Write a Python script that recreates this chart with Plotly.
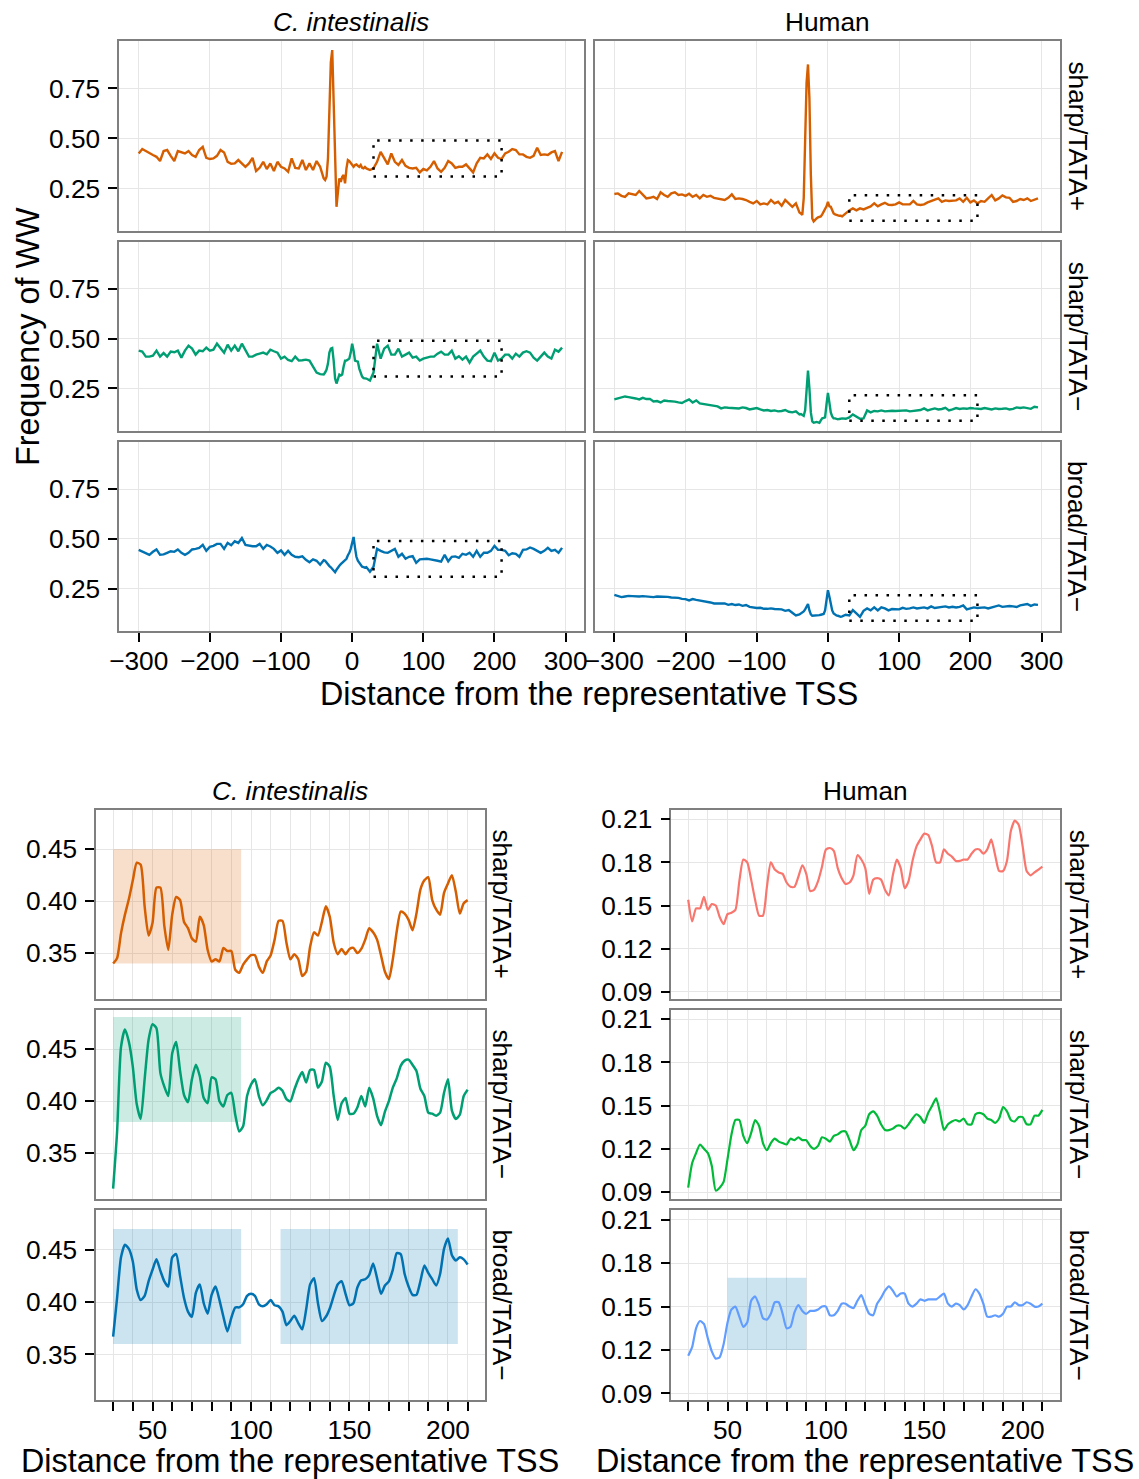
import plotly.graph_objects as go

W, H = 1139, 1479          # target picture size
OFF = 8                    # default page body margin
SX, CX = 0.99, 1.0         # measured capture transform, horizontal (picture = SX*page + CX)
SY, CY = 0.9916, -3.1      # measured capture transform, vertical
FW, FH = 1143, 1488        # figure size so that it covers the picture after capture

# ---------------- data ----------------
X_TOP = list(range(-300, -40, 5)) + list(range(-40, 20, 2)) + list(range(20, 296, 5))
X_BOT = list(range(30, 211, 2))

CI_SHARP_TATAP = [
    0.425, 0.447, 0.437, 0.425, 0.417, 0.408, 0.387, 0.437, 0.442, 0.413,
    0.387, 0.437, 0.430, 0.425, 0.437, 0.417, 0.408, 0.442, 0.458, 0.403,
    0.397, 0.400, 0.413, 0.442, 0.430, 0.383, 0.373, 0.375, 0.392, 0.375,
    0.358, 0.375, 0.403, 0.337, 0.353, 0.383, 0.347, 0.375, 0.337, 0.383,
    0.358, 0.350, 0.333, 0.400, 0.353, 0.350, 0.392, 0.342, 0.375, 0.342,
    0.387, 0.358,
    0.300, 0.292, 0.308, 0.400, 0.700, 0.880, 0.942, 0.720, 0.380, 0.158,
    0.233, 0.300, 0.283, 0.308, 0.317, 0.275, 0.350, 0.392, 0.387, 0.375,
    0.367, 0.358, 0.367, 0.370, 0.363, 0.358, 0.367, 0.353, 0.350, 0.357,
    0.350, 0.342, 0.350, 0.383, 0.433, 0.400, 0.370, 0.425, 0.383, 0.367,
    0.392, 0.363, 0.353, 0.350, 0.353, 0.330, 0.347, 0.340, 0.358, 0.387,
    0.350, 0.333, 0.353, 0.387, 0.375, 0.353, 0.358, 0.358, 0.370, 0.350,
    0.330, 0.375, 0.403, 0.400, 0.420, 0.397, 0.425, 0.403, 0.397, 0.425,
    0.433, 0.447, 0.442, 0.420, 0.420, 0.408, 0.403, 0.413, 0.453, 0.417,
    0.420, 0.417, 0.430, 0.437, 0.387, 0.433,
]
HS_SHARP_TATAP = [
    0.222, 0.225, 0.213, 0.208, 0.225, 0.220, 0.217, 0.237, 0.220, 0.200,
    0.203, 0.208, 0.197, 0.230, 0.217, 0.208, 0.225, 0.230, 0.217, 0.220,
    0.213, 0.223, 0.208, 0.217, 0.200, 0.217, 0.208, 0.213, 0.203, 0.200,
    0.197, 0.192, 0.203, 0.220, 0.197, 0.200, 0.197, 0.192, 0.183, 0.175,
    0.187, 0.170, 0.175, 0.170, 0.192, 0.175, 0.183, 0.163, 0.192, 0.175,
    0.158, 0.175,
    0.130, 0.125, 0.117, 0.200, 0.550, 0.780, 0.870, 0.700, 0.320, 0.100,
    0.085, 0.095, 0.100, 0.105, 0.108, 0.110, 0.120, 0.133, 0.150, 0.160,
    0.183, 0.160, 0.158, 0.140, 0.125, 0.120, 0.117, 0.115, 0.113, 0.113,
    0.110, 0.125, 0.140, 0.150, 0.140, 0.150, 0.145, 0.153, 0.160, 0.175,
    0.160, 0.170, 0.178, 0.168, 0.167, 0.170, 0.180, 0.170, 0.170, 0.170,
    0.187, 0.170, 0.167, 0.170, 0.180, 0.187, 0.190, 0.200, 0.183, 0.190,
    0.187, 0.187, 0.190, 0.200, 0.183, 0.203, 0.180, 0.190, 0.175, 0.187,
    0.183, 0.200, 0.217, 0.190, 0.200, 0.215, 0.205, 0.203, 0.183, 0.187,
    0.197, 0.192, 0.200, 0.187, 0.192, 0.200,
]
CI_SHARP_TATAM = [
    0.440, 0.435, 0.410, 0.410, 0.415, 0.440, 0.410, 0.428, 0.410, 0.435,
    0.432, 0.440, 0.405, 0.440, 0.465, 0.450, 0.420, 0.440, 0.437, 0.455,
    0.440, 0.445, 0.475, 0.450, 0.430, 0.470, 0.440, 0.465, 0.437, 0.475,
    0.440, 0.410, 0.410, 0.420, 0.425, 0.430, 0.422, 0.445, 0.437, 0.430,
    0.400, 0.410, 0.393, 0.387, 0.410, 0.390, 0.392, 0.395, 0.390, 0.360,
    0.330, 0.322,
    0.320, 0.330, 0.345, 0.375, 0.430, 0.450, 0.453, 0.390, 0.300, 0.275,
    0.300, 0.320, 0.315, 0.320, 0.360, 0.390, 0.390, 0.395, 0.400, 0.430,
    0.475, 0.440, 0.390, 0.387, 0.385, 0.350, 0.330, 0.310, 0.302, 0.300,
    0.300, 0.290, 0.330, 0.475, 0.400, 0.450, 0.465, 0.420, 0.420, 0.450,
    0.410, 0.420, 0.430, 0.405, 0.410, 0.390, 0.400, 0.405, 0.410, 0.410,
    0.425, 0.435, 0.420, 0.420, 0.440, 0.400, 0.412, 0.395, 0.410, 0.380,
    0.410, 0.425, 0.440, 0.410, 0.390, 0.387, 0.430, 0.390, 0.400, 0.420,
    0.420, 0.400, 0.425, 0.410, 0.430, 0.437, 0.430, 0.405, 0.390, 0.410,
    0.430, 0.410, 0.400, 0.445, 0.435, 0.455,
]
HS_SHARP_TATAM = [
    0.195, 0.200, 0.203, 0.210, 0.207, 0.205, 0.200, 0.195, 0.203, 0.197,
    0.198, 0.185, 0.187, 0.180, 0.190, 0.187, 0.187, 0.184, 0.180, 0.177,
    0.187, 0.195, 0.180, 0.190, 0.175, 0.172, 0.170, 0.167, 0.165, 0.160,
    0.150, 0.155, 0.153, 0.152, 0.153, 0.150, 0.155, 0.152, 0.145, 0.147,
    0.152, 0.145, 0.140, 0.142, 0.137, 0.140, 0.135, 0.137, 0.142, 0.133,
    0.130, 0.135,
    0.120, 0.122, 0.115, 0.113, 0.140, 0.220, 0.340, 0.250, 0.130, 0.085,
    0.078, 0.080, 0.082, 0.080, 0.078, 0.090, 0.100, 0.102, 0.105, 0.170,
    0.228, 0.180, 0.130, 0.110, 0.100, 0.100, 0.097, 0.095, 0.097, 0.100,
    0.100, 0.098, 0.105, 0.120, 0.110, 0.098, 0.100, 0.140, 0.130, 0.137,
    0.135, 0.140, 0.135, 0.137, 0.138, 0.137, 0.137, 0.138, 0.140, 0.135,
    0.138, 0.140, 0.142, 0.150, 0.140, 0.145, 0.150, 0.145, 0.147, 0.153,
    0.140, 0.145, 0.152, 0.147, 0.150, 0.148, 0.152, 0.150, 0.150, 0.147,
    0.152, 0.148, 0.145, 0.150, 0.147, 0.148, 0.150, 0.145, 0.148, 0.155,
    0.152, 0.155, 0.152, 0.148, 0.158, 0.155,
]
CI_BROAD_TATAM = [
    0.445, 0.437, 0.428, 0.420, 0.435, 0.447, 0.420, 0.422, 0.430, 0.438,
    0.435, 0.447, 0.430, 0.420, 0.430, 0.447, 0.450, 0.455, 0.470, 0.440,
    0.460, 0.465, 0.475, 0.475, 0.450, 0.480, 0.468, 0.488, 0.480, 0.505,
    0.470, 0.465, 0.463, 0.463, 0.475, 0.450, 0.470, 0.462, 0.450, 0.430,
    0.442, 0.420, 0.440, 0.420, 0.410, 0.408, 0.412, 0.395, 0.383, 0.397,
    0.390, 0.370,
    0.393, 0.390, 0.380, 0.375, 0.363, 0.357, 0.347, 0.340, 0.332, 0.345,
    0.358, 0.365, 0.373, 0.380, 0.390, 0.395, 0.400, 0.418, 0.430, 0.450,
    0.480, 0.510, 0.455, 0.410, 0.390, 0.380, 0.370, 0.360, 0.358, 0.355,
    0.358, 0.335, 0.360, 0.450, 0.440, 0.432, 0.430, 0.440, 0.450, 0.410,
    0.425, 0.400, 0.410, 0.413, 0.380, 0.397, 0.400, 0.400, 0.397, 0.392,
    0.390, 0.386, 0.420, 0.387, 0.410, 0.412, 0.405, 0.425, 0.420, 0.430,
    0.410, 0.440, 0.410, 0.430, 0.430, 0.440, 0.465, 0.445, 0.445, 0.440,
    0.418, 0.428, 0.425, 0.410, 0.445, 0.447, 0.457, 0.450, 0.440, 0.430,
    0.440, 0.455, 0.440, 0.445, 0.430, 0.455,
]
HS_BROAD_TATAM = [
    0.218, 0.212, 0.207, 0.210, 0.213, 0.212, 0.210, 0.210, 0.212, 0.210,
    0.208, 0.207, 0.210, 0.210, 0.207, 0.208, 0.205, 0.205, 0.203, 0.198,
    0.197, 0.190, 0.197, 0.193, 0.190, 0.188, 0.185, 0.180, 0.175, 0.175,
    0.172, 0.175, 0.168, 0.172, 0.167, 0.170, 0.163, 0.167, 0.158, 0.155,
    0.152, 0.153, 0.148, 0.148, 0.150, 0.147, 0.145, 0.145, 0.138, 0.142,
    0.128, 0.115,
    0.120, 0.125, 0.130, 0.135, 0.145, 0.160, 0.172, 0.140, 0.120, 0.113,
    0.113, 0.113, 0.113, 0.115, 0.116, 0.118, 0.122, 0.122, 0.140, 0.190,
    0.242, 0.210, 0.170, 0.140, 0.125, 0.118, 0.115, 0.113, 0.110, 0.108,
    0.110, 0.118, 0.115, 0.142, 0.125, 0.108, 0.138, 0.150, 0.140, 0.155,
    0.140, 0.155, 0.150, 0.140, 0.147, 0.147, 0.145, 0.153, 0.148, 0.150,
    0.155, 0.150, 0.152, 0.155, 0.150, 0.160, 0.152, 0.155, 0.157, 0.160,
    0.155, 0.158, 0.155, 0.158, 0.165, 0.145, 0.150, 0.155, 0.152, 0.155,
    0.155, 0.150, 0.155, 0.160, 0.165, 0.158, 0.160, 0.162, 0.160, 0.157,
    0.165, 0.168, 0.172, 0.163, 0.170, 0.168,
]

# zoom window 30..210
CI_Z_SHARP_TATAP = [
    0.340, 0.345, 0.369, 0.387, 0.402, 0.420, 0.437, 0.435, 0.395, 0.367,
    0.379, 0.413, 0.413, 0.376, 0.353, 0.387, 0.404, 0.401, 0.380, 0.374,
    0.364, 0.361, 0.385, 0.377, 0.353, 0.342, 0.344, 0.342, 0.355, 0.352,
    0.352, 0.334, 0.331, 0.339, 0.344, 0.348, 0.348, 0.337, 0.331, 0.342,
    0.348, 0.363, 0.381, 0.381, 0.360, 0.344, 0.349, 0.344, 0.328, 0.332,
    0.356, 0.370, 0.367, 0.380, 0.395, 0.385, 0.360, 0.349, 0.354, 0.349,
    0.354, 0.355, 0.350, 0.354, 0.363, 0.374, 0.370, 0.363, 0.348, 0.332,
    0.325, 0.344, 0.371, 0.390, 0.388, 0.382, 0.372, 0.388, 0.411, 0.420,
    0.423, 0.401, 0.392, 0.387, 0.408, 0.417, 0.425, 0.409, 0.388, 0.398,
    0.401,
]
CI_Z_SHARP_TATAM = [
    0.316, 0.370, 0.452, 0.469, 0.457, 0.433, 0.397, 0.383, 0.421, 0.459,
    0.474, 0.470, 0.427, 0.414, 0.405, 0.446, 0.457, 0.429, 0.406, 0.399,
    0.421, 0.435, 0.424, 0.403, 0.398, 0.423, 0.421, 0.400, 0.395, 0.406,
    0.408, 0.387, 0.371, 0.376, 0.405, 0.416, 0.421, 0.405, 0.396, 0.401,
    0.408, 0.410, 0.413, 0.410, 0.402, 0.400, 0.411, 0.421, 0.428, 0.418,
    0.430, 0.430, 0.413, 0.419, 0.437, 0.433, 0.405, 0.382, 0.398, 0.403,
    0.388, 0.388, 0.394, 0.405, 0.395, 0.413, 0.403, 0.386, 0.377, 0.390,
    0.400, 0.413, 0.422, 0.434, 0.439, 0.440, 0.435, 0.429, 0.412, 0.405,
    0.389, 0.388, 0.386, 0.389, 0.408, 0.421, 0.391, 0.383, 0.387, 0.405,
    0.411,
]
CI_Z_BROAD_TATAM = [
    0.367, 0.404, 0.443, 0.455, 0.451, 0.439, 0.412, 0.402, 0.406, 0.420,
    0.431, 0.441, 0.430, 0.420, 0.415, 0.443, 0.446, 0.425, 0.404, 0.391,
    0.386, 0.409, 0.417, 0.399, 0.389, 0.407, 0.415, 0.402, 0.386, 0.372,
    0.385, 0.395, 0.395, 0.398, 0.406, 0.408, 0.406, 0.398, 0.396, 0.398,
    0.402, 0.397, 0.396, 0.391, 0.378, 0.382, 0.387, 0.380, 0.374, 0.393,
    0.417, 0.423, 0.399, 0.382, 0.386, 0.394, 0.406, 0.417, 0.420, 0.408,
    0.397, 0.399, 0.414, 0.421, 0.422, 0.426, 0.437, 0.423, 0.408, 0.416,
    0.420, 0.431, 0.447, 0.446, 0.427, 0.415, 0.407, 0.407, 0.420, 0.435,
    0.428, 0.422, 0.416, 0.427, 0.451, 0.461, 0.445, 0.440, 0.443, 0.441,
    0.436,
]
HS_Z_SHARP_TATAP = [
    0.154, 0.139, 0.148, 0.148, 0.156, 0.147, 0.151, 0.150, 0.142, 0.137,
    0.144, 0.145, 0.147, 0.167, 0.182, 0.180, 0.168, 0.154, 0.143, 0.143,
    0.163, 0.180, 0.175, 0.173, 0.172, 0.166, 0.163, 0.163, 0.170, 0.178,
    0.172, 0.160, 0.161, 0.167, 0.177, 0.189, 0.190, 0.188, 0.176, 0.169,
    0.165, 0.166, 0.171, 0.185, 0.182, 0.176, 0.158, 0.168, 0.169, 0.168,
    0.161, 0.157, 0.171, 0.182, 0.176, 0.162, 0.167, 0.181, 0.191, 0.196,
    0.200, 0.199, 0.191, 0.180, 0.180, 0.189, 0.186, 0.184, 0.181, 0.181,
    0.182, 0.182, 0.186, 0.189, 0.189, 0.186, 0.189, 0.196, 0.185, 0.174,
    0.174, 0.181, 0.202, 0.209, 0.206, 0.191, 0.174, 0.171, 0.173, 0.175,
    0.177,
]
HS_Z_SHARP_TATAM = [
    0.093, 0.110, 0.117, 0.123, 0.120, 0.117, 0.108, 0.091, 0.093, 0.097,
    0.113, 0.130, 0.140, 0.140, 0.129, 0.124, 0.131, 0.140, 0.136, 0.124,
    0.119, 0.124, 0.127, 0.125, 0.124, 0.123, 0.127, 0.126, 0.128, 0.126,
    0.126, 0.122, 0.120, 0.122, 0.128, 0.127, 0.125, 0.129, 0.130, 0.132,
    0.132, 0.126, 0.119, 0.123, 0.133, 0.136, 0.144, 0.146, 0.143, 0.137,
    0.133, 0.133, 0.134, 0.136, 0.136, 0.134, 0.137, 0.141, 0.144, 0.142,
    0.138, 0.145, 0.150, 0.155, 0.145, 0.133, 0.137, 0.139, 0.140, 0.139,
    0.141, 0.137, 0.137, 0.144, 0.145, 0.144, 0.141, 0.140, 0.138, 0.141,
    0.149, 0.146, 0.140, 0.139, 0.142, 0.142, 0.137, 0.137, 0.143, 0.143,
    0.147,
]
HS_Z_BROAD_TATAM = [
    0.116, 0.122, 0.135, 0.140, 0.138, 0.128, 0.119, 0.114, 0.115, 0.124,
    0.139, 0.148, 0.150, 0.143, 0.136, 0.139, 0.154, 0.157, 0.151, 0.142,
    0.141, 0.145, 0.153, 0.153, 0.145, 0.135, 0.136, 0.146, 0.151, 0.147,
    0.145, 0.147, 0.147, 0.148, 0.150, 0.150, 0.144, 0.144, 0.147, 0.152,
    0.152, 0.150, 0.149, 0.154, 0.158, 0.151, 0.145, 0.144, 0.152, 0.156,
    0.161, 0.164, 0.161, 0.157, 0.159, 0.159, 0.152, 0.150, 0.152, 0.155,
    0.154, 0.155, 0.155, 0.155, 0.157, 0.159, 0.152, 0.150, 0.152, 0.151,
    0.148, 0.151, 0.157, 0.162, 0.159, 0.152, 0.143, 0.143, 0.144, 0.143,
    0.145, 0.150, 0.150, 0.153, 0.151, 0.151, 0.153, 0.152, 0.150, 0.150,
    0.152,
]

TOP_XTICKS = [-300, -200, -100, 0, 100, 200, 300]
TOP_YTICKS = [0.25, 0.50, 0.75]
BOT_XTICKS = list(range(30, 211, 10))
BOT_XLABELS = ["50", "100", "150", "200"]
CI_YTICKS = [0.35, 0.40, 0.45]
HS_YTICKS = [0.09, 0.12, 0.15, 0.18, 0.21]
ROW_LABELS = ["sharp/TATA+", "sharp/TATA\u2212", "broad/TATA\u2212"]

ORANGE, GREEN, BLUE = "#D55E00", "#009E73", "#0072B2"
H_RED, H_GREEN, H_BLUE = "#F8766D", "#00BA38", "#619CFF"

for arr in [CI_SHARP_TATAP, HS_SHARP_TATAP, CI_SHARP_TATAM, HS_SHARP_TATAM, CI_BROAD_TATAM, HS_BROAD_TATAM]:
    assert len(arr) == len(X_TOP), len(arr)
for arr in [CI_Z_SHARP_TATAP, CI_Z_SHARP_TATAM, CI_Z_BROAD_TATAM, HS_Z_SHARP_TATAP, HS_Z_SHARP_TATAM, HS_Z_BROAD_TATAM]:
    assert len(arr) == len(X_BOT), len(arr)

# ---------------- layout geometry (picture pixels -> figure fractions) ----------------
def fx(p):
    return ((p - CX) / SX - OFF) / FW

def fy(p):
    return 1 - ((p - CY) / SY - OFF) / FH

def fs(v):
    return v / SX

TOP_COLS = [(118.3, 584.0), (595.0, 1061.0)]
TOP_ROWS = [(41.0, 231.0), (241.7, 431.0), (442.3, 631.0)]
BOT_COLS = [(95.3, 485.0), (671.7, 1061.0)]
BOT_ROWS = [(810.0, 999.0), (1010.0, 1199.3), (1210.7, 1400.7)]

FONT = "Liberation Sans, Arial, Helvetica, sans-serif"
TICKFONT = dict(family=FONT, size=fs(26), color="black")

fig = go.Figure()
layout = {}

def ax_name(i, kind):
    return f"{kind}axis" if i == 1 else f"{kind}axis{i}"

def ref(i, kind):
    return kind if i == 1 else f"{kind}{i}"

base_axis = dict(showline=True, linecolor="#7F7F7F", linewidth=1.5, mirror=True,
                 showgrid=True, gridcolor="#E6E6E6", gridwidth=1, zeroline=False,
                 tickcolor="black", ticklen=9, tickwidth=2, tickfont=TICKFONT,
                 fixedrange=True)

top_series = [
    [CI_SHARP_TATAP, HS_SHARP_TATAP],
    [CI_SHARP_TATAM, HS_SHARP_TATAM],
    [CI_BROAD_TATAM, HS_BROAD_TATAM],
]
top_colors = [ORANGE, GREEN, BLUE]

shapes = []
annotations = []

# top grid 3x2
for r in range(3):
    for c in range(2):
        i = r * 2 + c + 1
        xd = [fx(TOP_COLS[c][0]), fx(TOP_COLS[c][1])]
        yd = [fy(TOP_ROWS[r][1]), fy(TOP_ROWS[r][0])]
        bottom = (r == 2)
        left = (c == 0)
        layout[ax_name(i, "x")] = dict(base_axis, domain=xd, anchor=ref(i, "y"),
                                       range=[-327.5, 325.5], tickmode="array",
                                       tickvals=TOP_XTICKS, ticks="outside" if bottom else "",
                                       showticklabels=bottom, ticklabelstandoff=-3)
        layout[ax_name(i, "y")] = dict(base_axis, domain=yd, anchor=ref(i, "x"),
                                       range=[0.0365, 0.9865], tickmode="array",
                                       tickvals=TOP_YTICKS, ticktext=["0.25", "0.50", "0.75"],
                                       ticks="outside" if left else "",
                                       showticklabels=left, ticklabelstandoff=3)
        fig.add_trace(go.Scatter(x=X_TOP, y=top_series[r][c], mode="lines",
                                 line=dict(color=top_colors[r], width=2.4),
                                 xaxis=ref(i, "x"), yaxis=ref(i, "y"),
                                 showlegend=False, hoverinfo="skip"))
        if c == 0:
            y0, y1 = 0.31, 0.49
        else:
            y0, y1 = 0.088, 0.216
        shapes.append(dict(type="rect", xref=ref(i, "x"), yref=ref(i, "y"),
                           x0=30, x1=210, y0=y0, y1=y1, layer="above",
                           line=dict(color="black", width=2.5, dash="2.5px,8.5px")))

# bottom panels
bot_series = [
    [CI_Z_SHARP_TATAP, HS_Z_SHARP_TATAP],
    [CI_Z_SHARP_TATAM, HS_Z_SHARP_TATAM],
    [CI_Z_BROAD_TATAM, HS_Z_BROAD_TATAM],
]
bot_colors = [[ORANGE, H_RED], [GREEN, H_GREEN], [BLUE, H_BLUE]]
bot_widths = [2.5, 2.2]
bot_xtext = [(str(v) if str(v) in BOT_XLABELS else "") for v in BOT_XTICKS]

for c in range(2):
    for r in range(3):
        i = 7 + c * 3 + r
        xd = [fx(BOT_COLS[c][0]), fx(BOT_COLS[c][1])]
        yd = [fy(BOT_ROWS[r][1]), fy(BOT_ROWS[r][0])]
        bottom = (r == 2)
        layout[ax_name(i, "x")] = dict(base_axis, domain=xd, anchor=ref(i, "y"),
                                       range=[21.4, 218.8], tickmode="array",
                                       tickvals=BOT_XTICKS, ticktext=bot_xtext,
                                       ticks="outside" if bottom else "",
                                       showticklabels=bottom, ticklabelstandoff=-4)
        if c == 0:
            yr, yt = [0.306, 0.4878], CI_YTICKS
        else:
            yr, yt = [0.0851, 0.2165], HS_YTICKS
        ytxt = ["%.2f" % v for v in yt]
        layout[ax_name(i, "y")] = dict(base_axis, domain=yd, anchor=ref(i, "x"),
                                       range=yr, tickmode="array", tickvals=yt,
                                       ticktext=ytxt, ticks="outside", showticklabels=True,
                                       ticklabelstandoff=3)
        fig.add_trace(go.Scatter(x=X_BOT, y=bot_series[r][c], mode="lines",
                                 line=dict(color=bot_colors[r][c], width=bot_widths[c],
                                           shape="spline", smoothing=0.6),
                                 xaxis=ref(i, "x"), yaxis=ref(i, "y"),
                                 showlegend=False, hoverinfo="skip"))

# highlighted windows in zoom panels
def band(i, x0, x1, y0, y1, rgba):
    shapes.append(dict(type="rect", xref=ref(i, "x"), yref=ref(i, "y"),
                       x0=x0, x1=x1, y0=y0, y1=y1, layer="between",
                       fillcolor=rgba, line=dict(width=0)))

band(7, 30, 95, 0.34, 0.45, "rgba(213,94,0,0.2)")
band(8, 30, 95, 0.38, 0.481, "rgba(0,158,115,0.2)")
band(9, 30, 95, 0.36, 0.47, "rgba(0,114,178,0.2)")
band(9, 115, 205, 0.36, 0.47, "rgba(0,114,178,0.2)")
band(12, 50, 90, 0.12, 0.17, "rgba(0,114,178,0.2)")

# ---------------- text ----------------
def text(x, y, s, size=26, angle=0, italic=False):
    annotations.append(dict(x=fx(x), y=fy(y), xref="paper", yref="paper",
                            text=(f"<i>{s}</i>" if italic else s), showarrow=False,
                            textangle=angle, xanchor="center", yanchor="middle",
                            font=dict(family=FONT, size=fs(size), color="black")))

text(351, 22, "C. intestinalis", italic=True)
text(828, 22, "Human")
text(290, 791, "C. intestinalis", italic=True)
text(866, 791, "Human")

for r in range(3):
    yc = (TOP_ROWS[r][0] + TOP_ROWS[r][1]) / 2
    text(1079, yc, ROW_LABELS[r], angle=90)
    yb = (BOT_ROWS[r][0] + BOT_ROWS[r][1]) / 2
    text(502, yb, ROW_LABELS[r], angle=90)
    text(1080, yb, ROW_LABELS[r], angle=90)

text(27, 337, "Frequency of WW", size=32, angle=-90)
text(589, 694, "Distance from the representative TSS", size=32)
text(290, 1461, "Distance from the representative TSS", size=32)
text(866, 1461, "Distance from the representative TSS", size=32)

fig.update_layout(**layout)
fig.update_layout(width=FW, height=FH, margin=dict(l=0, r=0, t=0, b=0),
                  paper_bgcolor="white", plot_bgcolor="white",
                  font=dict(family=FONT, size=fs(26), color="black"),
                  shapes=shapes, annotations=annotations, showlegend=False)

fig.write_html("out.html")
